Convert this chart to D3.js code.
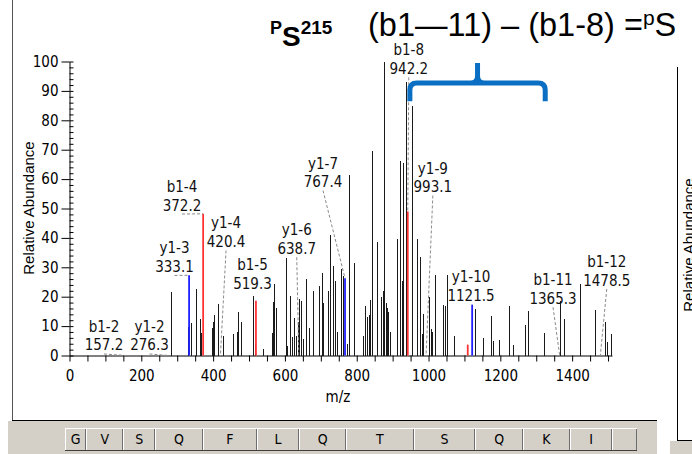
<!DOCTYPE html>
<html>
<head>
<meta charset="utf-8">
<script src="https://cdn.jsdelivr.net/npm/d3@7"></script>
<style>
body { margin: 0; background: #fff; }
svg { display: block; }
</style>
</head>
<body>
<div id="chart"></div>
<script>
let width = 692, height = 454;
let narrow = '"Liberation Sans Narrow", "Arial Narrow", "DejaVu Sans Condensed", sans-serif';
let sans = '"Liberation Sans", Arial, sans-serif';

// spectrum peaks (m/z, relative abundance)
let peakMz = [
    282.7, 329, 337.6, 352.4, 363.5, 366.3, 396, 400.6, 403.3, 414.5,
    426.7, 456.3, 467.4, 470.2, 476.9, 510.3, 516.5, 538, 563.2, 565.5,
    570.5, 574.4, 602.2, 606.7, 614.2, 620.6, 626.2, 630.9, 635.6, 640.1,
    644.8, 651.3, 657.9, 668, 679.1, 695.8, 704.2, 707, 720.9, 725.6,
    734, 739.6, 745.1, 756.3, 761.8, 773.8, 779.4, 792.5, 816.7, 823.1,
    827.9, 834.3, 837, 841.8, 855.7, 866.9, 872.4, 876, 880.2, 883.6,
    888, 892.8, 913.1, 920.6, 926.2, 929.8, 936.5, 953.2, 968.8, 976.3,
    981, 985.5, 1001.4, 1006.1, 1010.6, 1018.1, 1041.2, 1045.9, 1052.4, 1071,
    1129.5, 1152.6, 1174.1, 1180.5, 1196.4, 1225.1, 1236.2, 1268.8, 1276.3, 1321.7,
    1366.3, 1377.4, 1422, 1463.8, 1491.6, 1498, 1507.5
];
let peakInt = [
    21.5, 9.7, 11.2, 22.7, 12.3, 7.6, 9.2, 11.5, 13.7, 17.5,
    6.7, 7.2, 8, 14.8, 11.5, 20.4, 3.8, 2.2, 7.7, 18.2,
    24.2, 16.3, 33.3, 3.4, 20.4, 6.2, 12.6, 6.8, 11.5, 19.2,
    18.6, 5.7, 26, 9.3, 21.8, 23.8, 28.1, 18, 21.8, 41,
    30.4, 25.5, 7.9, 29.5, 27, 4, 61.4, 31.5, 6.8, 17,
    13, 13.8, 19, 69.7, 38.7, 20, 22, 100, 17.9, 16,
    14.7, 7.9, 39.7, 66.3, 25.5, 65.5, 93, 85, 39.7, 33.4,
    7.4, 14.2, 19.8, 9.1, 7.9, 27.4, 17.2, 16.8, 27.4, 6.6,
    15.9, 5.9, 13.4, 5.1, 5.4, 16.8, 3.6, 10.4, 15, 7.7,
    18.7, 12.5, 24.4, 15.5, 11.3, 4.5, 7.4
];

// assigned fragment ions and where their labels sit (in m/z / abundance units)
let ionNames    = ["b1-2", "y1-2", "y1-3", "b1-4", "y1-4", "b1-5", "y1-6", "y1-7", "b1-8", "b1-9", "y1-9", "y1-10", "b1-11", "b1-12"];
let ionMz       = [157.2, 276.3, 333.1, 372.2, 420.4, 519.3, 638.7, 767.4, 942.2, 1109.2, 993.1, 1121.5, 1365.3, 1478.5];
let ionInt      = [0, 0, 27.3, 48.2, 0, 18.6, 0, 26.3, 49, 3.7, 0, 17.3, 0, 0];
let ionLabelMz  = [96, 222.8, 292.5, 313.4, 436, 509.7, 632.9, 706.1, 945, null, 1012, 1118.4, 1346.8, 1496.4];
let ionLabelInt = [8, 8, 34.7, 55.6, 43.2, 29, 40.9, 63.6, 102.1, null, 61.9, 25, 23.9, 30.1];

let xTickValues = [0, 200, 400, 600, 800, 1000, 1200, 1400];
let yTickValues = [0, 10, 20, 30, 40, 50, 60, 70, 80, 90, 100];

// sequence bar: residues and the b-ion masses that bound them
let residues = ["G", "V", "S", "Q", "F", "L", "Q", "T", "S", "Q", "K", "I", ""];
let residueBounds = [0, 58.1, 157.2, 244.2, 372.2, 519.3, 632.4, 760.4, 942.2, 1109.2, 1237.3, 1365.3, 1478.5, 1546];

// brace between b1-8 and b1-11
let braceMz = [948, 1325];
let braceInt = [86.5, 92.7, 99.5]; // ends, bar, tip

let svg = d3.select("#chart").append("svg")
    .attr("width", width)
    .attr("height", height);

let x = d3.scaleLinear().domain([0, 1511]).range([69.5, 612]);
let y = d3.scaleLinear().domain([0, 100]).range([355.5, 61.5]);
let xSeq = d3.scaleLinear().domain([0, 1546]).range([65, 637]);

//panel frame + grey window bits
svg.append("rect").attr("x", 8).attr("y", 421).attr("width", 649).attr("height", 33).attr("fill", "#d4d0c8");
svg.append("rect").attr("x", 670).attr("y", 441).attr("width", 22).attr("height", 13).attr("fill", "#d4d0c8");
svg.append("line").attr("x1", 12.5).attr("x2", 12.5).attr("y1", 0).attr("y2", 421).attr("stroke", "#555");
svg.append("line").attr("x1", 12).attr("x2", 657).attr("y1", 420.5).attr("y2", 420.5).attr("stroke", "#000");
svg.append("line").attr("x1", 677.5).attr("x2", 677.5).attr("y1", 67).attr("y2", 441).attr("stroke", "#000");
svg.append("line").attr("x1", 677).attr("x2", 692).attr("y1", 440.5).attr("y2", 440.5).attr("stroke", "#000");
// next panel's axis title, cut by the window edge as in the original
svg.append("text")
    .attr("transform", "translate(694,245) rotate(-90)")
    .attr("text-anchor", "middle")
    .attr("font-family", sans)
    .attr("font-size", 15)
    .text("Relative Abundance");

// axes
let xAxis = d3.axisBottom(x)
    .tickValues(d3.range(0, 1511, 50))
    .tickSize(6)
    .tickSizeOuter(0)
    .tickFormat(d => xTickValues.includes(d) ? d : "");
let gx = svg.append("g").attr("transform", "translate(0," + y(0) + ")").call(xAxis);
gx.selectAll("text").attr("y", 25.5).attr("dy", null)
    .attr("font-family", narrow).attr("font-size", 15);

let yAxis = d3.axisLeft(y).tickValues(yTickValues).tickSize(8).tickSizeOuter(0);
let gy = svg.append("g").attr("transform", "translate(" + x(0) + ",0)").call(yAxis);
gy.selectAll("text").attr("font-family", narrow).attr("font-size", 15);

let yMinor = d3.axisRight(y).tickValues(d3.range(0, 101, 2)).tickSize(4).tickSizeOuter(0).tickFormat("");
svg.append("g").attr("transform", "translate(" + x(0) + ",0)").call(yMinor)
    .select(".domain").remove();

svg.selectAll(".domain, .tick line").attr("stroke", "#000");

svg.append("text")
    .attr("x", 338).attr("y", 402)
    .attr("text-anchor", "middle")
    .attr("font-family", narrow).attr("font-size", 15)
    .text("m/z");

svg.append("text")
    .attr("transform", "translate(34,208) rotate(-90)")
    .attr("text-anchor", "middle")
    .attr("font-family", sans).attr("font-size", 15)
    .text("Relative Abundance");

// spectrum sticks
let peaks = peakMz.map((m, i) => ({mz: m, val: peakInt[i]}));
let px = d => Math.round(x(d.mz)) + 0.5;
svg.append("g").selectAll("line")
    .data(peaks)
    .enter()
    .append("line")
    .attr("x1", px).attr("x2", px)
    .attr("y1", y(0)).attr("y2", d => y(d.val))
    .attr("stroke", "#1a1a1a")
    .attr("shape-rendering", "crispEdges");

// matched ions (b red, y blue)
let ions = ionNames.map((n, i) => ({
    name: n, mz: ionMz[i], val: ionInt[i],
    lmz: ionLabelMz[i], lval: ionLabelInt[i]
}));
svg.append("g").selectAll("line")
    .data(ions.filter(d => d.val > 0))
    .enter()
    .append("line")
    .attr("x1", d => x(d.mz)).attr("x2", d => x(d.mz))
    .attr("y1", y(0)).attr("y2", d => y(d.val))
    .attr("stroke", d => d.name[0] === "b" ? "#ff3333" : "#2020ff")
    .attr("stroke-width", 1.8);

let labelled = ions.filter(d => d.lmz !== null);

// dashed leaders from label to peak top
svg.append("g").selectAll("line")
    .data(labelled.filter(d => {
        let dx = x(d.lmz) - x(d.mz), dy = (y(d.lval) + 22) - y(d.val);
        return Math.sqrt(dx * dx + dy * dy) > 12;
    }))
    .enter()
    .append("line")
    .attr("x1", d => x(d.lmz)).attr("y1", d => y(d.lval) + 22)
    .attr("x2", d => x(d.mz)).attr("y2", d => y(d.val))
    .attr("stroke", "#8a8a8a")
    .attr("stroke-dasharray", "3,2");

let lab = svg.append("g").selectAll("text")
    .data(labelled)
    .enter()
    .append("text")
    .attr("text-anchor", "middle")
    .attr("font-family", narrow)
    .attr("font-size", 15)
    .attr("fill", "#111");
lab.append("tspan").attr("x", d => x(d.lmz)).attr("y", d => y(d.lval)).text(d => d.name);
lab.append("tspan").attr("x", d => x(d.lmz)).attr("y", d => y(d.lval) + 18.5).text(d => d.mz.toFixed(1));

// titles
let t1 = svg.append("text").attr("x", 270).attr("y", 33.5)
    .attr("font-family", sans).attr("font-weight", "bold");
t1.append("tspan").attr("font-size", 18).text("P");
t1.append("tspan").attr("font-size", 28).attr("dy", 12).text("S");
t1.append("tspan").attr("font-size", 19).attr("dy", -12).text("215");

let t2 = svg.append("text").attr("x", 368).attr("y", 36)
    .attr("font-family", sans).attr("font-size", 32.5);
t2.append("tspan").text("(b1\u201411) \u2013 (b1-8) =");
t2.append("tspan").attr("font-size", 21).attr("dy", -11).text("p");
t2.append("tspan").attr("font-size", 32.5).attr("dy", 11).text("S");

// blue brace
let bl = x(braceMz[0]), br = x(braceMz[1]), bc = (bl + br) / 2;
let yEnd = y(braceInt[0]), yBar = y(braceInt[1]), yTip = y(braceInt[2]);
let r = 7;
let bp = d3.path();
bp.moveTo(bl, yEnd);
bp.lineTo(bl, yBar + r);
bp.quadraticCurveTo(bl, yBar, bl + r, yBar);
bp.lineTo(br - r, yBar);
bp.quadraticCurveTo(br, yBar, br, yBar + r);
bp.lineTo(br, yEnd);
bp.moveTo(bc - r, yBar);
bp.quadraticCurveTo(bc, yBar, bc, yBar - r);
bp.lineTo(bc, yTip);
bp.moveTo(bc + r, yBar);
bp.quadraticCurveTo(bc, yBar, bc, yBar - r);
svg.append("path")
    .attr("d", bp.toString())
    .attr("fill", "none")
    .attr("stroke", "#0a6fc2")
    .attr("stroke-width", 5);

// sequence bar
let cells = residues.map((s, i) => ({res: s, a: residueBounds[i], b: residueBounds[i + 1]}));
let cg = svg.append("g").selectAll("g")
    .data(cells)
    .enter()
    .append("g");
cg.append("rect")
    .attr("x", d => Math.round(xSeq(d.a)))
    .attr("y", 428)
    .attr("width", d => Math.round(xSeq(d.b)) - Math.round(xSeq(d.a)))
    .attr("height", 22)
    .attr("fill", "#d4d0c8");
cg.append("line")
    .attr("x1", d => Math.round(xSeq(d.a)) + 0.5).attr("x2", d => Math.round(xSeq(d.a)) + 0.5)
    .attr("y1", 428).attr("y2", 450)
    .attr("stroke", "#fff");
cg.append("line")
    .attr("x1", d => Math.round(xSeq(d.b)) - 0.5).attr("x2", d => Math.round(xSeq(d.b)) - 0.5)
    .attr("y1", 428).attr("y2", 450)
    .attr("stroke", "#6e6e6e");
cg.append("text")
    .attr("x", d => (xSeq(d.a) + xSeq(d.b)) / 2)
    .attr("y", 444)
    .attr("text-anchor", "middle")
    .attr("font-family", narrow)
    .attr("font-size", 14)
    .text(d => d.res);
svg.append("line").attr("x1", 65).attr("x2", 637).attr("y1", 428.5).attr("y2", 428.5).attr("stroke", "#fff");
svg.append("line").attr("x1", 65).attr("x2", 637).attr("y1", 450.5).attr("y2", 450.5).attr("stroke", "#404040");
</script>
</body>
</html>
